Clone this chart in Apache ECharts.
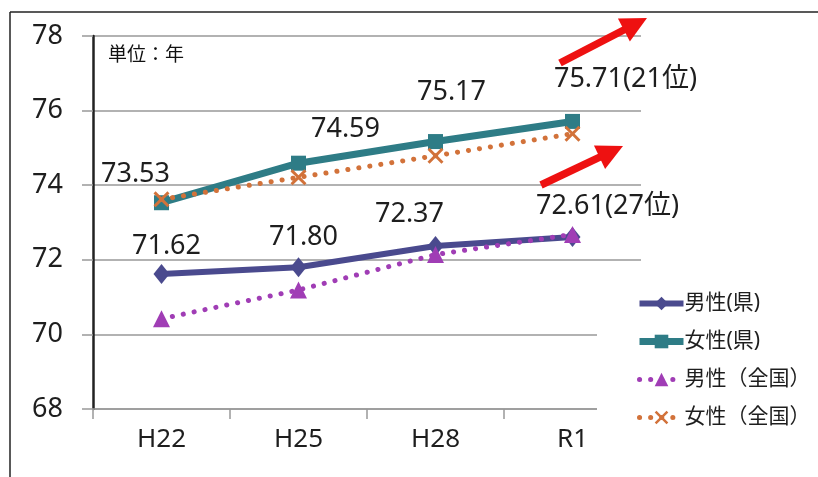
<!DOCTYPE html>
<html>
<head>
<meta charset="utf-8">
<script src="https://cdn.jsdelivr.net/npm/echarts@6/dist/echarts.min.js"></script>
<style>
html,body{margin:0;padding:0;background:#fff;}
#c{width:818px;height:477px;}
</style>
</head>
<body>
<div id="c"></div>
<script>
// ---- data ----
var categories = ['H22', 'H25', 'H28', 'R1'];
var seriesNames = ['男性(県)', '女性(県)', '男性（全国）', '女性（全国）'];
var maleKen = [71.62, 71.80, 72.37, 72.61];
var femaleKen = [73.53, 74.59, 75.17, 75.71];
var maleZenkoku = [70.42, 71.19, 72.14, 72.68];
var femaleZenkoku = [73.62, 74.21, 74.79, 75.38];
var maleKenRank = ['', '', '', '27位'];
var femaleKenRank = ['', '', '', '21位'];
var yTicks = [68, 70, 72, 74, 76, 78];
var unitText = '単位：年';

// ---- style / layout ----
var FONT = '"Noto Sans", "Noto Sans CJK JP", sans-serif';
var maleLabelOffsets = [[5, -28], [5, -30], [-26, -32], [35, -31]];
var femaleLabelOffsets = [[-26, -28], [47, -34], [16, -49], [53, -42]];
var colors = ['#4a4a8e', '#2e7c86', '#a03db5', '#d2723a'];

function labeled(values, ranks, offsets) {
  return values.map(function (v, i) {
    return {
      value: v,
      label: {
        show: true,
        position: 'inside',
        offset: offsets[i],
        formatter: v.toFixed(2) + (ranks[i] ? '(' + ranks[i] + ')' : '')
      }
    };
  });
}

var labelStyle = { fontSize: 27, color: '#1e1e1e', fontFamily: FONT };
var xPath = 'path://M0,1.3L1.3,0L5,3.7L8.7,0L10,1.3L6.3,5L10,8.7L8.7,10L5,6.3L1.3,10L0,8.7L3.7,5Z';

function arrow(x1, y1, x2, y2) {
  var ang = Math.atan2(y2 - y1, x2 - x1);
  var hl = 26, hw = 13;
  var bx = x2 - hl * Math.cos(ang), by = y2 - hl * Math.sin(ang);
  var px = -Math.sin(ang), py = Math.cos(ang);
  return [
    { type: 'line', shape: { x1: x1, y1: y1, x2: bx + 2 * Math.cos(ang), y2: by + 2 * Math.sin(ang) },
      style: { stroke: '#ee1111', lineWidth: 7.5 }, z: 10 },
    { type: 'polygon', shape: { points: [[x2, y2], [bx + px * hw, by + py * hw], [bx - px * hw, by - py * hw]] },
      style: { fill: '#ee1111' }, z: 10 }
  ];
}

var legendData = [
  { name: seriesNames[0], lineStyle: { width: 6 } },
  { name: seriesNames[1], lineStyle: { width: 7 } },
  { name: seriesNames[2], lineStyle: { width: 5 } },
  { name: seriesNames[3], lineStyle: { width: 5 } }
];

var chart = echarts.init(document.getElementById('c'), null, { renderer: 'canvas' });
var option = {
  backgroundColor: '#fff',
  animation: false,
  textStyle: { fontFamily: FONT },
  grid: { left: 93, right: 177, top: 36, bottom: 68, containLabel: false },
  legend: {
    orient: 'vertical',
    left: 597, top: 279,
    padding: [14, 14, 14, 39],
    backgroundColor: '#fff',
    itemWidth: 44, itemHeight: 17, itemGap: 17,
    textStyle: { fontSize: 21, color: '#1e1e1e', fontFamily: FONT, padding: [0, 0, 0, -4] },
    data: legendData
  },
  xAxis: {
    type: 'category',
    data: categories,
    boundaryGap: true,
    axisLine: { show: true, lineStyle: { color: '#999', width: 1.5 } },
    axisTick: { show: true, length: 10, lineStyle: { color: '#999', width: 1.5 } },
    axisLabel: { fontSize: 26, color: '#1e1e1e', margin: 18, fontFamily: FONT }
  },
  yAxis: {
    type: 'value',
    min: yTicks[0], max: yTicks[yTicks.length - 1], interval: 2,
    axisLine: { show: true, lineStyle: { color: '#222', width: 2.5 } },
    axisTick: { show: true, length: 11, lineStyle: { color: '#999', width: 1.5 } },
    axisLabel: { fontSize: 27, color: '#1e1e1e', margin: 30, fontFamily: FONT },
    splitLine: { show: true, lineStyle: { color: '#999', width: 1.5 } }
  },
  series: [
    {
      name: seriesNames[0], type: 'line',
      data: labeled(maleKen, maleKenRank, maleLabelOffsets),
      symbol: 'diamond', symbolSize: [16, 20],
      itemStyle: { color: colors[0] },
      lineStyle: { color: colors[0], width: 6 },
      label: labelStyle, z: 2
    },
    {
      name: seriesNames[1], type: 'line',
      data: labeled(femaleKen, femaleKenRank, femaleLabelOffsets),
      symbol: 'rect', symbolSize: 15,
      itemStyle: { color: colors[1] },
      lineStyle: { color: colors[1], width: 7 },
      label: labelStyle, z: 2
    },
    {
      name: seriesNames[2], type: 'line',
      data: maleZenkoku,
      symbol: 'triangle', symbolSize: [17, 17],
      itemStyle: { color: colors[2] },
      lineStyle: { color: colors[2], width: 5, type: [0.1, 11], cap: 'round' },
      z: 3
    },
    {
      name: seriesNames[3], type: 'line',
      data: femaleZenkoku,
      symbol: xPath, symbolSize: 16,
      itemStyle: { color: colors[3] },
      lineStyle: { color: colors[3], width: 5, type: [0.1, 11], cap: 'round' },
      z: 3
    }
  ],
  graphic: [
    { type: 'text', left: 108, top: 44, style: { text: unitText, fontSize: 19, fill: '#111', fontFamily: '"Noto Sans CJK JP", sans-serif' }, z: 10 },
    { type: 'line', shape: { x1: 10, y1: 12, x2: 818, y2: 12 }, style: { stroke: '#222', lineWidth: 1.5 }, z: 10 },
    { type: 'line', shape: { x1: 10, y1: 12, x2: 10, y2: 477 }, style: { stroke: '#222', lineWidth: 1.5 }, z: 10 }
  ].concat(arrow(560, 63, 647, 18)).concat(arrow(541, 185, 623, 146))
};
chart.setOption(option);
</script>
</body>
</html>
